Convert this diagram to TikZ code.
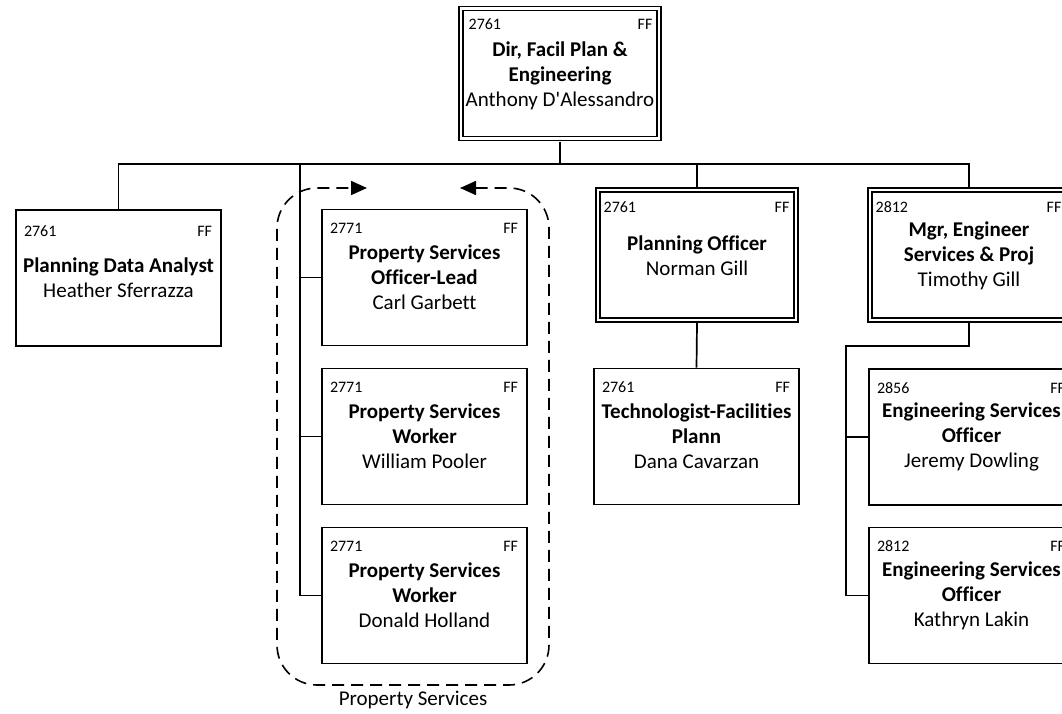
\documentclass[tikz,border=0pt]{standalone}
\usepackage{fontspec}
\setmainfont{Carlito}[Ligatures={TeXOff,NoCommon}]
\usetikzlibrary{arrows.meta}

\begin{document}
\begin{tikzpicture}[x=1pt, y=-1pt, line width=1.7pt,
		post/.style = {draw, minimum width=205pt, minimum height=136pt, inner sep=0pt},
		lead/.style = {draw, double, double distance=2.4pt, minimum width=198pt, minimum height=130pt, inner sep=0pt, outer sep=3.2pt},
		code/.style = {font=\fontsize{16}{18}\selectfont, inner sep=0pt},
		who/.style  = {font=\fontsize{21}{25}\selectfont, align=center, inner sep=0pt},
		team/.style = {line width=1.6pt, dash pattern=on 12pt off 7pt, rounded corners=40pt}]
		\path [use as bounding box] (0,0) rectangle (1062,713);
		\clip (0,0) rectangle (1062,713);
		% director
		\node [lead] (dir) at (560,73.5) {};
		\node [code, anchor=base west] (dirc) at ([shift={(10,24)}]dir.north west) {2761};
		\node [code, anchor=base east] (dirf) at ([shift={(-9,24)}]dir.north east) {FF};
		\node [who] (dirt) at ([yshift=-71pt]dir.north) {\textbf{Dir, Facil Plan \&}\\\textbf{Engineering}\\Anthony D'Alessandro};
		% first row
		\node [post] (pda) at (118.5,278) {};
		\node [code, anchor=base west] (pdac) at ([shift={(8,27)}]pda.north west) {2761};
		\node [code, anchor=base east] (pdaf) at ([shift={(-9,27)}]pda.north east) {FF};
		\node [who] (pdat) at ([yshift=-69pt]pda.north) {\textbf{Planning Data Analyst}\\Heather Sferrazza};
		\node [post] (pso) at (424.5,277.5) {};
		\node [code, anchor=base west] (psoc) at ([shift={(8,25)}]pso.north west) {2771};
		\node [code, anchor=base east] (psof) at ([shift={(-9,25)}]pso.north east) {FF};
		\node [who] (psot) at ([yshift=-69pt]pso.north) {\textbf{Property Services}\\\textbf{Officer-Lead}\\Carl Garbett};
		\node [lead] (po) at (697,255) {};
		\node [code, anchor=base west] (poc) at ([shift={(8,26)}]po.north west) {2761};
		\node [code, anchor=base east] (pof) at ([shift={(-9,26)}]po.north east) {FF};
		\node [who] (pot) at ([yshift=-69pt]po.north) {\textbf{Planning Officer}\\Norman Gill};
		\node [lead] (mgr) at (969,255) {};
		\node [code, anchor=base west] (mgrc) at ([shift={(8,26)}]mgr.north west) {2812};
		\node [code, anchor=base east] (mgrf) at ([shift={(-9,26)}]mgr.north east) {FF};
		\node [who] (mgrt) at ([yshift=-69pt]mgr.north) {\textbf{Mgr, Engineer}\\\textbf{Services \& Proj}\\Timothy Gill};
		% second row
		\node [post] (psw1) at (424.5,436.5) {};
		\node [code, anchor=base west] (psw1c) at ([shift={(8,25)}]psw1.north west) {2771};
		\node [code, anchor=base east] (psw1f) at ([shift={(-9,25)}]psw1.north east) {FF};
		\node [who] (psw1t) at ([yshift=-69pt]psw1.north) {\textbf{Property Services}\\\textbf{Worker}\\William Pooler};
		\node [post] (tech) at (696.5,436.5) {};
		\node [code, anchor=base west] (techc) at ([shift={(8,25)}]tech.north west) {2761};
		\node [code, anchor=base east] (techf) at ([shift={(-9,25)}]tech.north east) {FF};
		\node [who] (techt) at ([yshift=-69pt]tech.north) {\textbf{Technologist-Facilities}\\\textbf{Plann}\\Dana Cavarzan};
		\node [post] (eng1) at (971.5,437) {};
		\node [code, anchor=base west] (eng1c) at ([shift={(8,25)}]eng1.north west) {2856};
		\node [code, anchor=base east] (eng1f) at ([shift={(-9,25)}]eng1.north east) {FF};
		\node [who] (eng1t) at ([yshift=-69pt]eng1.north) {\textbf{Engineering Services}\\\textbf{Officer}\\Jeremy Dowling};
		% third row
		\node [post] (psw2) at (424.5,595.5) {};
		\node [code, anchor=base west] (psw2c) at ([shift={(8,25)}]psw2.north west) {2771};
		\node [code, anchor=base east] (psw2f) at ([shift={(-9,25)}]psw2.north east) {FF};
		\node [who] (psw2t) at ([yshift=-69pt]psw2.north) {\textbf{Property Services}\\\textbf{Worker}\\Donald Holland};
		\node [post] (eng2) at (971.5,595.5) {};
		\node [code, anchor=base west] (eng2c) at ([shift={(8,25)}]eng2.north west) {2812};
		\node [code, anchor=base east] (eng2f) at ([shift={(-9,25)}]eng2.north east) {FF};
		\node [who] (eng2t) at ([yshift=-69pt]eng2.north) {\textbf{Engineering Services}\\\textbf{Officer}\\Kathryn Lakin};
		% lines
		\draw (dir.south) -- ++(0,22) coordinate (bus);
		\coordinate (psbus) at (300,164);
		\coordinate (engbus) at (846,346);
		\draw (pda.north) |- (bus) -| (mgr.north);
		\draw (bus) -| (po.north);
		\draw (psbus) |- (psw2.west);
		\draw (psbus |- pso.west) -- (pso.west);
		\draw (psbus |- psw1.west) -- (psw1.west);
		\draw (po.south) -- (tech.north);
		\draw (mgr.south) |- (engbus) |- (eng2.west);
		\draw (engbus |- eng1.west) -- (eng1.west);
		% group
		\draw [team, {Triangle[length=16pt,width=14pt]}-{Triangle[length=16pt,width=14pt]}] (460,188) -- (549,188) -- (549,685) -- (277,685) -- (277,188) -- (367,188);
		\node [who] (grp) at (413,700) {Property Services};
\end{tikzpicture}
\end{document}
